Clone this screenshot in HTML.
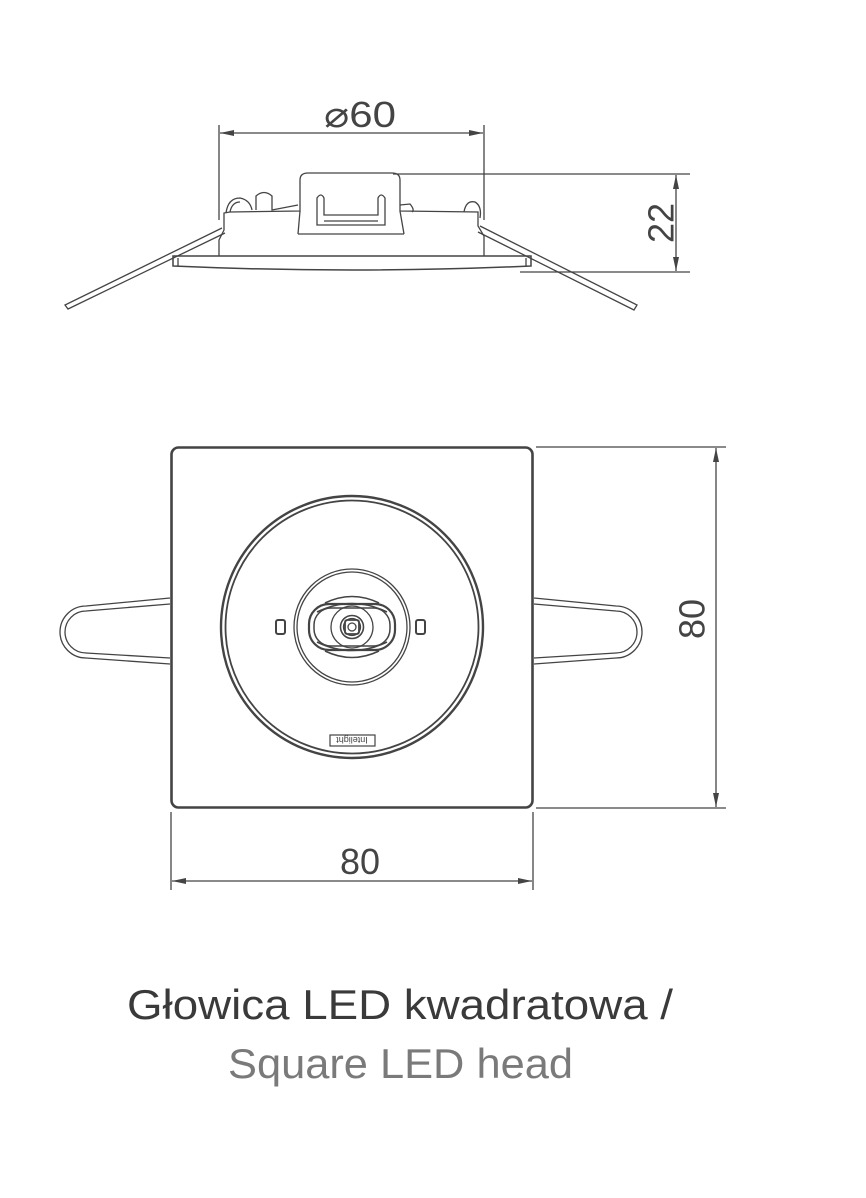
<!DOCTYPE html>
<html><head><meta charset="utf-8"><style>
html,body{margin:0;padding:0;background:#fff;width:866px;height:1198px;overflow:hidden}
svg{display:block}
</style></head><body>
<svg width="866" height="1198" viewBox="0 0 866 1198" xmlns="http://www.w3.org/2000/svg" font-family="Liberation Sans, sans-serif">
<defs>
<marker id="ar" markerWidth="14" markerHeight="8" refX="14" refY="4" orient="auto" markerUnits="userSpaceOnUse">
<path d="M0,1 L14,4 L0,7 Z" fill="#444"/></marker>
</defs>
<g stroke="#444" fill="none" stroke-width="1.3">
<line x1="219" y1="125" x2="219" y2="220"/>
<line x1="484" y1="125" x2="484" y2="220"/>
<line x1="245" y1="133" x2="220" y2="133" marker-end="url(#ar)"/>
<line x1="245" y1="133" x2="483" y2="133" marker-end="url(#ar)"/>
<line x1="393" y1="174" x2="690" y2="174"/>
<line x1="520" y1="272" x2="690" y2="272"/>
<line x1="676" y1="220" x2="676" y2="175" marker-end="url(#ar)"/>
<line x1="676" y1="220" x2="676" y2="271" marker-end="url(#ar)"/>
<path d="M173,256 L531,256 L531,266 Q352,274 173,266 Z" stroke-width="1.5"/>
<line x1="178" y1="258" x2="178" y2="266"/>
<line x1="526" y1="258" x2="526" y2="266"/>
<path d="M219,256 L219,240 L224,230 L224,213 L230,212 L300,211 L300,180 Q300,173 308,173 L392,173 Q400,173 400,180 L400,211 L478,212 L478,226 L484,236 L484,256"/>
<line x1="298" y1="234" x2="404" y2="234"/>
<line x1="300" y1="211" x2="298" y2="234"/>
<line x1="400" y1="211" x2="404" y2="234"/>
<path d="M317,225 L317,198 Q321,192 324,198 L324,215 L378,215 L378,198 Q381,192 385,198 L385,225 Z"/>
<line x1="324" y1="221" x2="378" y2="221"/>
<path d="M226,213 Q228,198 240,198 Q250,200 252,210"/>
<path d="M230,212 Q232,202 240,202"/>
<path d="M464,212 Q466,200 475,202 Q482,206 480,218"/>
<path d="M256,210 L256,196 Q264,189 272,196 L272,210 L298,205"/>
<path d="M400,205 L410,204 Q415,210 412,212"/>
<path d="M222,228 L65,305 L68,309 L225,233"/>
<path d="M480,226 L637,305 L634,310 L478,232"/>
<rect x="171.5" y="447.5" width="361" height="360" rx="7" stroke-width="2.6"/>
<circle cx="352" cy="627" r="131" stroke-width="2.4"/>
<circle cx="352" cy="627" r="126.5" stroke-width="1.8"/>
<circle cx="352" cy="627" r="58" stroke-width="1.3"/>
<circle cx="352" cy="627" r="55" stroke-width="1.3"/>
<path d="M317,612 Q352,595 387,612" stroke-width="1.6"/>
<path d="M317,642 Q352,659 387,642" stroke-width="1.6"/>
<path d="M325,603 Q352,590 379,603 M325,651 Q352,664 379,651" stroke-width="1.6"/>
<rect x="309" y="604" width="86" height="46" rx="20" stroke-width="2.2"/>
<rect x="314" y="608" width="76" height="38" rx="17" stroke-width="1.5"/>
<circle cx="352" cy="627" r="21"/>
<circle cx="352" cy="627" r="11.5" stroke-width="1.6"/>
<circle cx="352" cy="627" r="8.5"/>
<rect x="345" y="620" width="14" height="14" rx="2" stroke-width="1.8"/>
<circle cx="352" cy="627" r="4"/>
<rect x="276" y="620" width="9" height="14" rx="2" stroke-width="2"/>
<rect x="416" y="620" width="9" height="14" rx="2" stroke-width="2"/>
<rect x="330" y="735" width="45" height="11" stroke-width="1.2"/>
<path d="M170,598 L86,606 A26,26 0 0 0 86,658 L170,664"/>
<path d="M170,604 L86,611 A21,21 0 0 0 86,653 L170,658"/>
<path d="M534,598 L616,606 A26,26 0 0 1 616,658 L534,664"/>
<path d="M534,604 L616,611 A21,21 0 0 1 616,653 L534,658"/>
<line x1="536" y1="447" x2="726" y2="447"/>
<line x1="536" y1="808" x2="726" y2="808"/>
<line x1="716" y1="627" x2="716" y2="448" marker-end="url(#ar)"/>
<line x1="716" y1="627" x2="716" y2="807" marker-end="url(#ar)"/>
<line x1="171" y1="812" x2="171" y2="890"/>
<line x1="533" y1="812" x2="533" y2="890"/>
<line x1="352" y1="881" x2="172" y2="881" marker-end="url(#ar)"/>
<line x1="352" y1="881" x2="532" y2="881" marker-end="url(#ar)"/>
</g>
<text x="352" y="745" font-size="9" text-anchor="middle" fill="#444" transform="rotate(180 352 741)">Intelight</text>
<g fill="#444" font-size="36">
<text x="324" y="127" textLength="72" lengthAdjust="spacingAndGlyphs">⌀60</text>
<text x="664" y="223" text-anchor="middle" transform="rotate(-90 664 223)" dominant-baseline="middle">22</text>
<text x="695" y="619" text-anchor="middle" transform="rotate(-90 695 619)" dominant-baseline="middle">80</text>
<text x="360" y="874" text-anchor="middle">80</text>
</g>
<text x="127" y="1019" font-size="42" textLength="546" lengthAdjust="spacingAndGlyphs" fill="#3a3a3a">Głowica LED kwadratowa /</text>
<text x="228" y="1078" font-size="42" textLength="345" lengthAdjust="spacingAndGlyphs" fill="#7a7a7a">Square LED head</text>
</svg>
</body></html>
